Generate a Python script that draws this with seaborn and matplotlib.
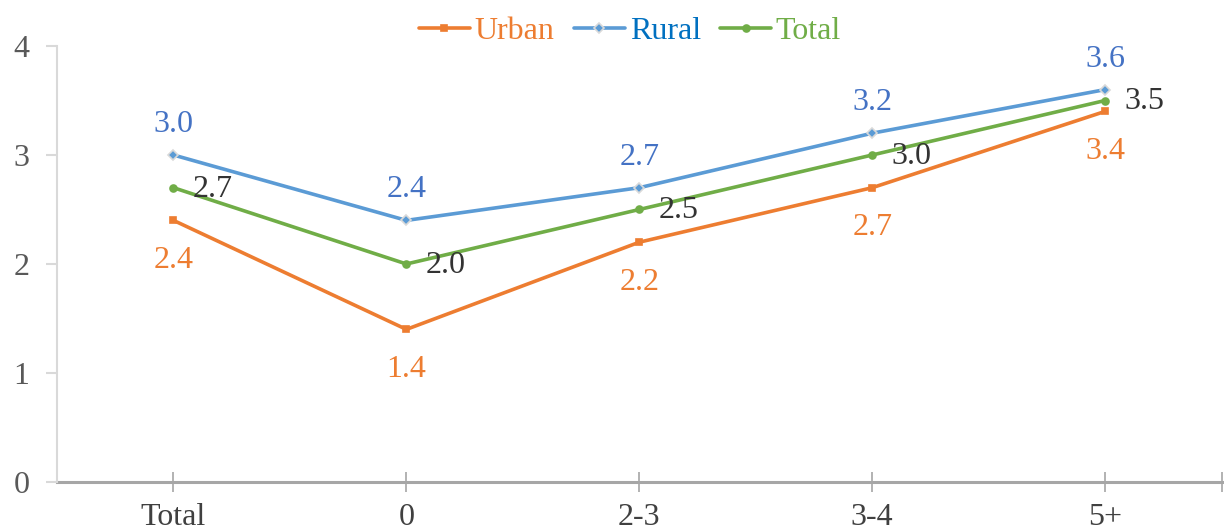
"""Line chart: urban / rural / total values by category."""

import matplotlib

matplotlib.use("Agg")

import matplotlib.pyplot as plt
import pandas as pd
import seaborn as sns

CATEGORIES = ["Total", "0", "2-3", "3-4", "5+"]
URBAN = [2.4, 1.4, 2.2, 2.7, 3.4]
RURAL = [3.0, 2.4, 2.7, 3.2, 3.6]
TOTAL = [2.7, 2.0, 2.5, 3.0, 3.5]

SERIES = {
    "Urban": dict(values=URBAN, color="#ED7D31", marker="s", label_color="#ED7D31",
                  legend_color="#ED7D31", offset=(0, -29), mec="#ED7D31"),
    "Rural": dict(values=RURAL, color="#5B9BD5", marker="D", label_color="#4472C4",
                  legend_color="#0070C0", offset=(0, 22), mec="#D9D9D9"),
    "Total": dict(values=TOTAL, color="#70AD47", marker="o", label_color="#333333",
                  legend_color="#70AD47", offset=(28, -1), mec="#70AD47"),
}

sns.set_theme(style="white")
plt.rcParams["font.family"] = ["Liberation Serif", "DejaVu Serif"]

df = pd.concat(
    [pd.DataFrame({"category": CATEGORIES, "value": s["values"], "series": name})
     for name, s in SERIES.items()],
    ignore_index=True,
)

fig = plt.figure(figsize=(12.24, 5.30), dpi=100)
ax = fig.add_axes([0.0466, 0.0906, 0.9514, 0.8226])

for name, s in SERIES.items():
    sub = df[df["series"] == name]
    sns.lineplot(data=sub, x="category", y="value", ax=ax, color=s["color"],
                 linewidth=2.6, marker=s["marker"], markersize=5,
                 markerfacecolor=s["color"], markeredgecolor=s["mec"],
                 markeredgewidth=1.2, label=name, sort=False)
    for cat, val in zip(sub["category"], sub["value"]):
        ax.annotate(f"{val:.1f}", (cat, val), xytext=s["offset"],
                    textcoords="offset points", ha="center", va="center",
                    fontsize=23, color=s["label_color"])

ax.set_xlim(-0.5, 4.5)
ax.set_ylim(0, 4)
ax.set_yticks([0, 1, 2, 3, 4])
ax.set_xlabel("")
ax.set_ylabel("")

for side in ["top", "right"]:
    ax.spines[side].set_visible(False)
ax.spines["left"].set_color("#D9D9D9")
ax.spines["left"].set_linewidth(1.5)
ax.spines["bottom"].set_color("#A6A6A6")
ax.spines["bottom"].set_linewidth(2.2)
ax.spines["bottom"].set_zorder(0)

ax.tick_params(axis="y", left=True, length=8, width=1.5, color="#D9D9D9",
               labelsize=23, labelcolor="#595959", pad=12)
ax.tick_params(axis="x", bottom=True, direction="inout", length=14, width=1.2,
               color="#A6A6A6", labelsize=23, labelcolor="#404040", pad=8)
ax.set_xticks([4.5], minor=True)
ax.tick_params(axis="x", which="minor", bottom=True, direction="inout", length=14,
               width=1.2, color="#A6A6A6")

leg = ax.legend(loc="center", bbox_to_anchor=(0.492, 1.033), ncol=3,
                frameon=False, fontsize=23, handlelength=1.6, handletextpad=0.15,
                columnspacing=0.6, borderpad=0)
for text, s in zip(leg.get_texts(), SERIES.values()):
    text.set_color(s["legend_color"])

fig.savefig("out.png", dpi=100)
